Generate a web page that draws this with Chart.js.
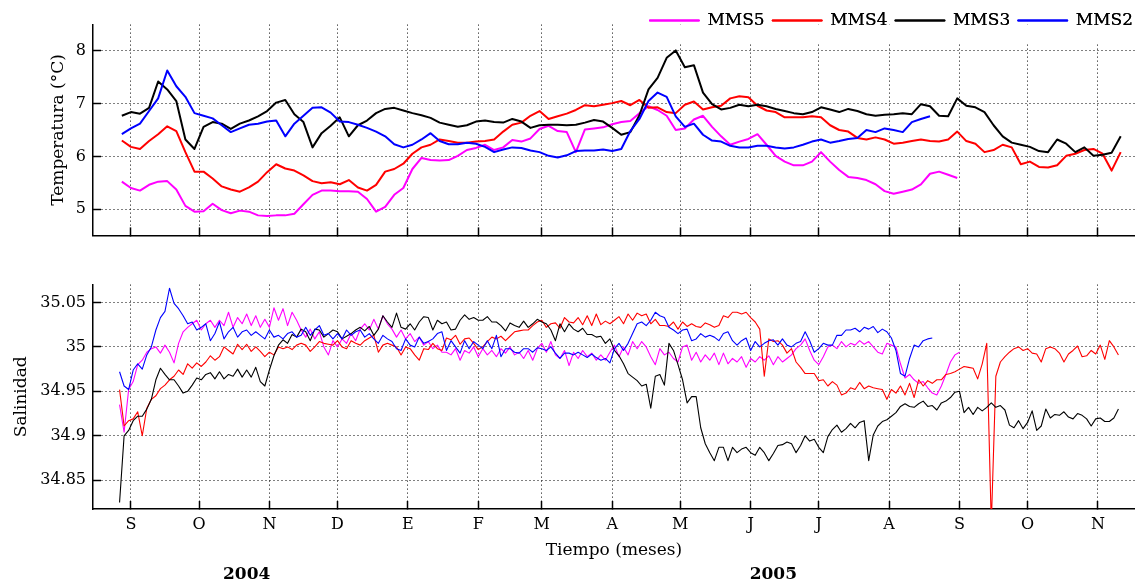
<!DOCTYPE html>
<html lang="es">
<head>
<meta charset="UTF-8">
<title>Temperatura y salinidad MMS2 - MMS5</title>
<script src="https://cdn.jsdelivr.net/npm/chart.js"></script>
<style>
  body { margin: 0; background: #fff; overflow: hidden; }
  canvas { position: absolute; left: 0; }
  #tempChart { top: 0; }
  #salChart { top: 260px; }
</style>
</head>
<body>
<canvas id="tempChart" width="1135" height="260"></canvas>
<canvas id="salChart" width="1135" height="323"></canvas>
<script>
// x values are days counted from 1 Sep 2004
const months = ['S', 'O', 'N', 'D', 'E', 'F', 'M', 'A', 'M', 'J', 'J', 'A', 'S', 'O', 'N'];
const monthDays = [0, 30, 61, 91, 122, 153, 181, 212, 242, 273, 303, 334, 365, 395, 426];
const yearLabels = ['2004', '2005'];
const yearDays = [51, 283];
const dayMin = -16.7, dayMax = 442.3;

const stations = ['MMS5', 'MMS4', 'MMS3', 'MMS2'];
const colors = ['#ff00ff', '#ff0000', '#000000', '#0000ff'];

const tempTicks = [5, 6, 7, 8];
const salTicks = [34.85, 34.9, 34.95, 35, 35.05];

// temperature, one value every 4 days from day -4
const tempStart = -4, tempStep = 4;
const tempMMS5 = [
  5.52, 5.40, 5.35, 5.46, 5.52, 5.53, 5.37, 5.06, 4.95, 4.96, 5.10, 4.98, 4.92, 4.97, 4.95, 4.88, 4.87, 4.88,
  4.88, 4.91, 5.09, 5.27, 5.35, 5.35, 5.34, 5.34, 5.33, 5.19, 4.95, 5.04, 5.27, 5.40, 5.76, 5.97, 5.93, 5.92,
  5.93, 6.01, 6.12, 6.16, 6.22, 6.12, 6.17, 6.31, 6.28, 6.34, 6.52, 6.58, 6.48, 6.46, 6.08, 6.51, 6.53, 6.55,
  6.61, 6.65, 6.67, 6.82, 6.95, 6.88, 6.77, 6.50, 6.53, 6.70, 6.77, 6.56, 6.38, 6.22, 6.28, 6.33, 6.42, 6.22,
  6.01, 5.90, 5.83, 5.83, 5.90, 6.08, 5.90, 5.74, 5.61, 5.59, 5.55, 5.47, 5.34, 5.29, 5.33, 5.37, 5.47, 5.67,
  5.71, 5.65, 5.59
];
const tempMMS4 = [
  6.30, 6.18, 6.14, 6.29, 6.42, 6.57, 6.48, 6.08, 5.71, 5.71, 5.58, 5.43, 5.37, 5.33, 5.41, 5.52, 5.70, 5.85,
  5.77, 5.73, 5.64, 5.53, 5.49, 5.51, 5.47, 5.55, 5.41, 5.35, 5.46, 5.71, 5.76, 5.86, 6.05, 6.17, 6.22, 6.32,
  6.29, 6.26, 6.26, 6.28, 6.29, 6.32, 6.47, 6.60, 6.64, 6.77, 6.86, 6.71, 6.76, 6.81, 6.88, 6.97, 6.95, 6.98,
  7.01, 7.05, 6.97, 7.07, 6.92, 6.93, 6.84, 6.82, 6.98, 7.04, 6.89, 6.93, 6.96, 7.10, 7.14, 7.12, 6.96, 6.87,
  6.84, 6.74, 6.74, 6.74, 6.76, 6.74, 6.59, 6.50, 6.47, 6.35, 6.32, 6.36, 6.32, 6.24, 6.26, 6.29, 6.32, 6.29,
  6.28, 6.32, 6.47, 6.29, 6.24, 6.08, 6.12, 6.22, 6.17, 5.85, 5.90, 5.80, 5.79, 5.83, 6.01, 6.05, 6.12, 6.14,
  6.05, 5.73, 6.08
];
const tempMMS3 = [
  6.77, 6.84, 6.81, 6.92, 7.42, 7.27, 7.05, 6.32, 6.14, 6.56, 6.65, 6.62, 6.52, 6.62, 6.68, 6.76, 6.86, 7.02,
  7.07, 6.80, 6.65, 6.17, 6.44, 6.58, 6.74, 6.38, 6.59, 6.68, 6.82, 6.90, 6.92, 6.87, 6.82, 6.78, 6.73, 6.64,
  6.60, 6.56, 6.59, 6.66, 6.68, 6.65, 6.64, 6.71, 6.66, 6.54, 6.59, 6.60, 6.60, 6.59, 6.60, 6.64, 6.69, 6.66,
  6.54, 6.41, 6.46, 6.78, 7.27, 7.49, 7.87, 8.01, 7.69, 7.73, 7.21, 6.99, 6.89, 6.92, 6.98, 6.95, 6.98, 6.95,
  6.90, 6.86, 6.82, 6.80, 6.84, 6.93, 6.89, 6.84, 6.90, 6.86, 6.80, 6.77, 6.79, 6.80, 6.82, 6.80, 6.99, 6.95,
  6.77, 6.76, 7.10, 6.96, 6.93, 6.84, 6.59, 6.38, 6.26, 6.22, 6.18, 6.10, 6.08, 6.32, 6.24, 6.08, 6.17, 6.01,
  6.03, 6.07, 6.38
];
const tempMMS2 = [
  6.42, 6.53, 6.62, 6.86, 7.10, 7.63, 7.33, 7.13, 6.82, 6.77, 6.72, 6.59, 6.46, 6.53, 6.60, 6.62, 6.66, 6.68,
  6.38, 6.62, 6.77, 6.92, 6.93, 6.83, 6.66, 6.65, 6.60, 6.54, 6.47, 6.38, 6.23, 6.17, 6.22, 6.32, 6.44, 6.29,
  6.23, 6.23, 6.26, 6.24, 6.18, 6.08, 6.13, 6.17, 6.16, 6.11, 6.08, 6.01, 5.98, 6.02, 6.10, 6.11, 6.11, 6.13,
  6.10, 6.14, 6.48, 6.71, 7.05, 7.21, 7.13, 6.76, 6.56, 6.62, 6.41, 6.30, 6.28, 6.20, 6.17, 6.17, 6.20, 6.20,
  6.17, 6.15, 6.17, 6.22, 6.28, 6.32, 6.26, 6.29, 6.33, 6.35, 6.50, 6.46, 6.53, 6.50, 6.46, 6.65, 6.71, 6.76
];

// salinity, one value every 2 days from day -5
const salStart = -5, salStep = 2;
const salMMS5 = [
  34.935, 34.904, 34.952, 34.961, 34.980, 34.985, 34.994, 34.998, 35.000, 34.993,
  35.002, 34.994, 34.982, 35.004, 35.017, 35.022, 35.026, 35.030, 35.019, 35.026,
  35.030, 35.022, 35.030, 35.024, 35.039, 35.022, 35.033, 35.026, 35.037, 35.024,
  35.035, 35.022, 35.031, 35.022, 35.044, 35.030, 35.043, 35.024, 35.039, 35.030,
  35.019, 35.011, 35.020, 35.009, 35.017, 35.000, 34.991, 35.007, 35.000, 35.009,
  35.004, 35.015, 35.007, 35.020, 35.026, 35.019, 35.031, 35.020, 35.035, 35.026,
  35.020, 35.011, 35.019, 35.009, 35.015, 35.006, 35.011, 35.002, 35.006, 34.998,
  35.002, 34.994,
  34.994, 34.991, 34.998, 34.985, 34.996, 34.993, 35.000, 34.989, 34.998, 34.991,
  34.996, 34.989, 34.998, 34.993, 35.000, 34.991, 34.994, 34.987, 34.996, 34.985,
  34.998, 35.004, 34.994, 35.006, 34.991, 34.987, 34.996, 34.979, 34.994, 34.987,
  34.996, 34.989, 34.993, 34.985, 34.991, 34.985, 34.994, 35.002, 34.989, 35.000,
  34.991, 35.006, 34.998, 35.006, 35.000, 34.989, 34.980, 34.998, 34.991, 34.994,
  34.987, 34.983, 35.000, 35.002, 34.985, 34.994, 34.983, 34.991, 34.985, 34.993,
  34.980, 34.993, 34.981, 34.987, 34.983, 34.989, 34.977, 34.987, 34.983, 34.989,
  34.985, 34.990, 34.980, 34.989, 34.983, 34.987,
  34.991, 34.998, 35.002, 35.009, 34.996, 34.985, 34.980, 34.989, 35.000, 35.002,
  34.998, 35.006, 35.000, 35.004, 35.002, 35.007, 35.003, 35.006, 35.000, 34.994,
  34.992, 35.004, 35.002, 35.000, 34.981, 34.965, 34.969, 34.963, 34.959, 34.961,
  34.954, 34.948, 34.946, 34.956, 34.969, 34.983, 34.991, 34.994
];
const salMMS4 = [
  34.952, 34.911, 34.917, 34.919, 34.927, 34.900, 34.931, 34.941, 34.945, 34.953,
  34.957, 34.963, 34.967, 34.974, 34.969, 34.981, 34.976, 34.982, 34.978, 34.983,
  34.990, 34.985, 34.989, 35.000, 34.996, 34.992, 35.003, 34.997, 35.003, 34.995,
  35.000, 34.995, 34.989, 34.994, 34.991, 35.000, 34.998, 35.000, 34.997, 35.002,
  35.004, 35.002, 34.995, 35.000, 35.006, 35.004, 35.003, 35.002, 35.007, 35.000,
  34.998, 35.007, 35.004, 35.002, 35.007, 35.010, 35.013, 34.994, 35.002, 35.004,
  35.002, 35.000, 34.991, 35.000, 34.998, 34.991, 34.985, 34.998, 34.997, 35.004,
  34.998, 34.996,
  35.010, 35.008, 35.013, 35.003, 35.009, 35.010, 35.004, 34.997, 35.000, 35.006,
  35.011, 35.009, 35.012, 35.007, 35.012, 35.017, 35.018, 35.019, 35.019, 35.024,
  35.028, 35.030, 35.022, 35.026, 35.027, 35.021, 35.033, 35.028, 35.027, 35.033,
  35.025, 35.035, 35.024, 35.037, 35.025, 35.029, 35.026, 35.030, 35.034, 35.026,
  35.037, 35.030, 35.038, 35.035, 35.037, 35.026, 35.031, 35.024, 35.024, 35.023,
  35.028, 35.020, 35.028, 35.023, 35.026, 35.023, 35.022, 35.027, 35.025, 35.022,
  35.024, 35.035, 35.033, 35.039, 35.039, 35.037, 35.039, 35.033, 35.028, 35.020,
  34.967, 35.009, 35.006, 35.007, 35.002, 34.993,
  34.998, 34.983, 34.977, 34.970, 34.970, 34.970, 34.962, 34.963, 34.956, 34.961,
  34.957, 34.946, 34.948, 34.954, 34.952, 34.960, 34.953, 34.956, 34.954, 34.953,
  34.952, 34.941, 34.952, 34.948, 34.956, 34.946, 34.959, 34.943, 34.963, 34.956,
  34.962, 34.959, 34.963, 34.963, 34.969, 34.970, 34.972, 34.975, 34.978, 34.977,
  34.976, 34.964, 34.981, 35.004, 34.800, 34.967, 34.983, 34.989, 34.994, 34.998,
  35.000, 34.996, 34.998, 34.993, 34.992, 34.983, 34.998, 35.000, 34.998, 34.993,
  34.983, 34.992, 34.996, 35.001, 34.989, 34.990, 34.996, 34.992, 35.002, 34.986,
  35.007, 35.000, 34.991
];
const salMMS3 = [
  34.825, 34.900, 34.906, 34.917, 34.922, 34.922, 34.930, 34.941, 34.963, 34.976,
  34.969, 34.963, 34.963, 34.956, 34.948, 34.950, 34.957, 34.965, 34.963, 34.969,
  34.971, 34.964, 34.972, 34.964, 34.969, 34.967, 34.975, 34.966, 34.974, 34.966,
  34.977, 34.961, 34.956, 34.974, 34.990, 35.002, 35.008, 35.004, 35.014, 35.011,
  35.020, 35.017, 35.007, 35.020, 35.019, 35.011, 35.015, 35.019, 35.017, 35.009,
  35.012, 35.015, 35.019, 35.022, 35.018, 35.023, 35.013, 35.020, 35.035, 35.028,
  35.022, 35.038, 35.022, 35.020, 35.026, 35.019, 35.028, 35.034, 35.033, 35.019,
  35.030, 35.026,
  35.028, 35.019, 35.020, 35.030, 35.036, 35.031, 35.033, 35.030, 35.030, 35.034,
  35.028, 35.028, 35.024, 35.018, 35.027, 35.024, 35.022, 35.029, 35.022, 35.026,
  35.031, 35.028, 35.026, 35.019, 35.007, 35.026, 35.017, 35.026, 35.020, 35.017,
  35.021, 35.014, 35.014, 35.011, 35.012, 35.004, 35.009, 34.996, 34.990, 34.981,
  34.970, 34.966, 34.962, 34.956, 34.958, 34.931, 34.967, 34.969, 34.957, 35.004,
  34.996, 34.980, 34.963, 34.937, 34.944, 34.944, 34.909, 34.891, 34.881, 34.872,
  34.887, 34.887, 34.872, 34.887, 34.881, 34.885, 34.887, 34.881, 34.878, 34.887,
  34.881, 34.872, 34.880, 34.889, 34.890, 34.893,
  34.891, 34.881, 34.889, 34.900, 34.894, 34.896, 34.887, 34.881, 34.899, 34.907,
  34.912, 34.904, 34.908, 34.914, 34.909, 34.915, 34.917, 34.872, 34.901, 34.911,
  34.916, 34.918, 34.922, 34.926, 34.933, 34.936, 34.933, 34.932, 34.936, 34.939,
  34.933, 34.934, 34.929, 34.937, 34.939, 34.943, 34.949, 34.950, 34.926, 34.932,
  34.924, 34.932, 34.928, 34.932, 34.937, 34.932, 34.934, 34.929, 34.912, 34.909,
  34.917, 34.908, 34.915, 34.928, 34.906, 34.911, 34.930, 34.920, 34.924, 34.923,
  34.927, 34.921, 34.919, 34.925, 34.923, 34.919, 34.911, 34.919, 34.920, 34.916,
  34.916, 34.920, 34.930
];
const salMMS2 = [
  34.972, 34.956, 34.952, 34.974, 34.981, 34.975, 34.991, 35.000, 35.019, 35.033,
  35.040, 35.066, 35.049, 35.043, 35.035, 35.026, 35.028, 35.019, 35.022, 35.026,
  35.007, 35.015, 35.028, 35.009, 35.017, 35.022, 35.011, 35.017, 35.019, 35.013,
  35.017, 35.013, 35.009, 35.019, 35.011, 35.013, 35.009, 35.015, 35.017, 35.011,
  35.013, 35.022, 35.013, 35.019, 35.024, 35.013, 35.015, 35.009, 35.015, 35.009,
  35.019, 35.013, 35.017, 35.019, 35.011, 35.015, 35.009, 35.004, 35.013, 35.009,
  35.006, 34.998, 34.996, 35.009, 35.002, 35.000, 35.011, 35.004, 35.006, 35.009,
  35.015, 35.017,
  34.996, 35.007, 35.000, 34.993, 35.007, 34.998, 35.006, 35.002, 34.998, 35.007,
  34.998, 35.013, 34.989, 34.998, 34.998, 34.994, 34.993, 34.998, 34.998, 34.994,
  34.999, 34.998, 34.996, 35.000, 34.993, 34.987, 34.993, 34.993, 34.991, 34.994,
  34.991, 34.988, 34.992, 34.988, 34.985, 34.987, 34.982, 34.998, 35.004, 34.996,
  35.004, 35.015, 35.026, 35.028, 35.024, 35.030, 35.039, 35.035, 35.033, 35.022,
  35.019, 35.015, 35.019, 35.020, 35.007, 35.009, 35.015, 35.011, 35.013, 35.011,
  35.007, 35.015, 35.017, 35.007, 35.002, 35.007, 35.010, 34.996, 35.006, 35.000,
  35.004, 35.007, 35.008, 35.002, 35.009, 35.002,
  35.000, 35.004, 35.006, 35.017, 35.007, 34.994, 34.998, 35.004, 35.002, 35.002,
  35.013, 35.013, 35.019, 35.019, 35.021, 35.017, 35.022, 35.020, 35.023, 35.016,
  35.020, 35.017, 35.010, 34.996, 34.970, 34.967, 34.987, 35.002, 35.000, 35.007,
  35.009, 35.010
];

Chart.defaults.font.family = '"DejaVu Serif", serif';
Chart.defaults.color = '#000';

function series(values, start, step) {
  return values.map((v, i) => ({ x: start + i * step, y: v }));
}

function makeDatasets(lists, start, step, width) {
  return lists.map((vals, i) => ({
    label: stations[i],
    data: series(vals, start, step),
    borderColor: colors[i],
    backgroundColor: colors[i],
    borderWidth: width,
    borderJoinStyle: 'round',
    pointRadius: 0,
    tension: 0,
    order: lists.length - 1 - i   // MMS2 drawn last
  }));
}

function xAxis(showLabels, height) {
  return {
    type: 'linear',
    min: dayMin,
    max: dayMax,
    afterBuildTicks: s => { s.ticks = monthDays.map(v => ({ value: v })); },
    afterFit: s => { s.height = height; },
    ticks: {
      display: showLabels,
      autoSkip: false,
      maxRotation: 0,
      padding: 14,
      font: { size: 16 },
      callback: v => months[monthDays.indexOf(v)]
    },
    grid: { color: '#000', lineWidth: 1, tickLength: -8, tickWidth: 1.5, tickColor: '#000' },
    border: { display: true, color: '#000', width: 1.5, dash: [1, 3] }
  };
}

function yAxis(min, max, tickList, fmt, title, titlePad) {
  return {
    min: min,
    max: max,
    afterBuildTicks: s => { s.ticks = tickList.map(v => ({ value: v })); },
    afterFit: s => { s.width = 93; },
    ticks: { padding: 15, font: { size: 16 }, callback: fmt },
    title: { display: true, text: title, font: { size: 17 }, padding: { top: titlePad, bottom: 0 } },
    grid: { color: '#000', lineWidth: 1, tickLength: -8, tickWidth: 1.5, tickColor: '#000' },
    border: { display: true, color: '#000', width: 1.5, dash: [1, 3] }
  };
}

// legend sits over the top of the plot, with a blank patch behind it
const legendOverPlot = {
  id: 'legendOverPlot',
  afterLayout(chart) {
    const lg = chart.legend;
    lg.top = 4;
    lg.bottom = 49;
    lg.height = 45;
    lg.left += 6;
    lg.right += 6;
  },
  beforeDatasetsDraw(chart) {
    const lg = chart.legend;
    const { ctx, chartArea } = chart;
    const left = lg.right - lg.lineWidths[0] - 4;
    ctx.save();
    ctx.fillStyle = '#fff';
    ctx.fillRect(left, chartArea.top, chartArea.right - left, 18);
    ctx.restore();
    lg.draw();
  }
};

const yearText = {
  id: 'yearText',
  afterDraw(chart) {
    const { ctx, chartArea } = chart;
    const x = chart.scales.x;
    ctx.save();
    ctx.font = 'bold 17px "DejaVu Serif"';
    ctx.fillStyle = '#000';
    ctx.textAlign = 'center';
    ctx.textBaseline = 'middle';
    yearLabels.forEach((t, i) => ctx.fillText(t, x.getPixelForValue(yearDays[i]), chartArea.bottom + 66));
    ctx.restore();
  }
};

new Chart(document.getElementById('tempChart'), {
  type: 'line',
  data: { datasets: makeDatasets([tempMMS5, tempMMS4, tempMMS3, tempMMS2], tempStart, tempStep, 2) },
  options: {
    responsive: false,
    animation: false,
    layout: { padding: 0 },
    plugins: {
      tooltip: { enabled: false },
      legend: {
        position: 'top',
        align: 'end',
        maxHeight: 23,
        labels: {
          boxWidth: 49,
          boxHeight: 0,
          padding: 8,
          color: '#000',
          font: { size: 17 },
          sort: (a, b) => a.datasetIndex - b.datasetIndex
        }
      }
    },
    scales: {
      x: xAxis(false, 13),
      y: yAxis(4.5, 8.5, tempTicks, v => String(v), 'Temperatura (°C)', 48)
    }
  },
  plugins: [legendOverPlot]
});

new Chart(document.getElementById('salChart'), {
  type: 'line',
  data: { datasets: makeDatasets([salMMS5, salMMS4, salMMS3, salMMS2], salStart, salStep, 1.1) },
  options: {
    responsive: false,
    animation: false,
    layout: { padding: { top: 23, left: 0, right: 0, bottom: 0 } },
    plugins: { legend: { display: false }, tooltip: { enabled: false } },
    scales: {
      x: Object.assign(xAxis(true, 74), {
        title: { display: true, text: 'Tiempo (meses)', font: { size: 17 }, padding: { top: 0, bottom: 22 } }
      }),
      y: yAxis(34.8176, 35.0701, salTicks, v => String(+v.toFixed(2)), 'Salinidad', 11)
    }
  },
  plugins: [yearText]
});
</script>
</body>
</html>
